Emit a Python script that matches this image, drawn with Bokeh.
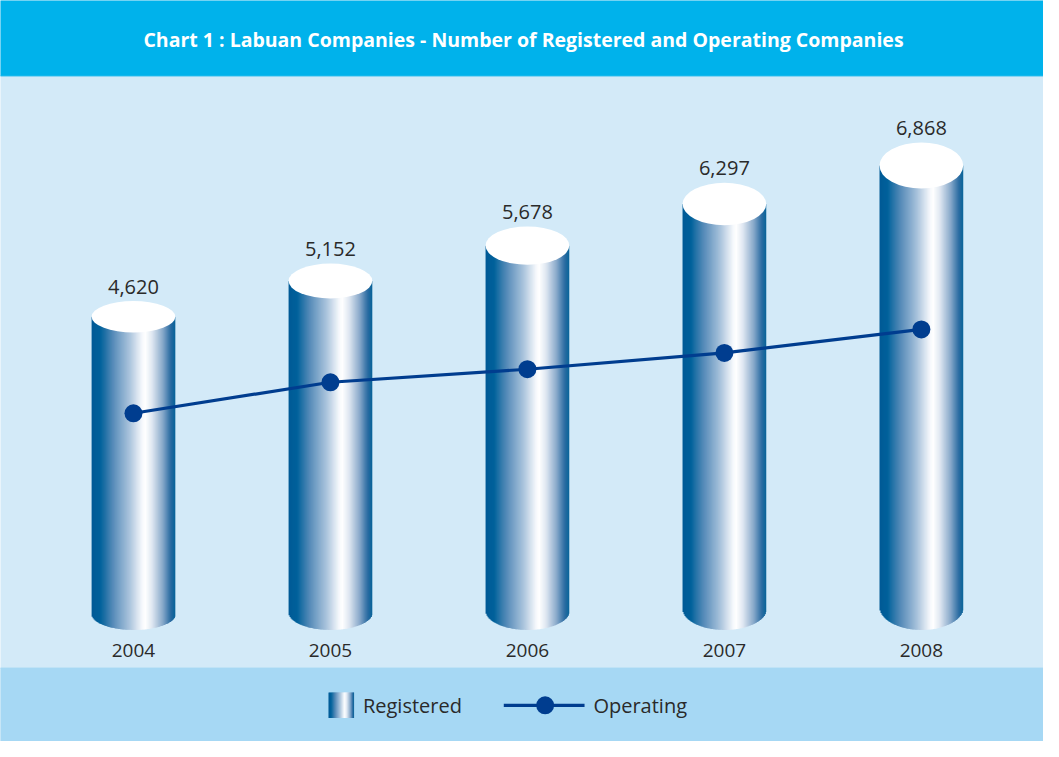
import math
from bokeh.plotting import figure
from bokeh.models import Range1d, ColumnDataSource
from bokeh.core.properties import value
from bokeh.embed import file_html
from bokeh.resources import INLINE

# ---------------- data ----------------
years = ["2004", "2005", "2006", "2007", "2008"]
registered = [4620, 5152, 5678, 6297, 6868]
operating = [3185, 3646, 3840, 4083, 4432]
title_text = "Chart 1 : Labuan Companies - Number of Registered and Operating Companies"

# ---------------- geometry helpers (reference pixel -> data) ----------------
S = 0.0687  # reference px per unit


def X(px):
    return (px - 135) / 200.0


def Y(py):
    return (640.5 - py) / S


FONT = value("Open Sans")
TXT = "#2a2a2a"
NAVY = "#003d8f"

stops = [(0.0, (0, 90, 150)), (0.1, (0, 97, 155)), (0.25, (79, 134, 181)),
         (0.45, (169, 195, 220)), (0.6, (244, 247, 251)), (0.64, (255, 255, 255)),
         (0.72, (224, 232, 242)), (0.85, (136, 169, 202)), (0.95, (36, 103, 159)),
         (1.0, (0, 95, 150))]


def grad(t):
    for (t0, c0), (t1, c1) in zip(stops[:-1], stops[1:]):
        if t0 <= t <= t1:
            f = (t - t0) / (t1 - t0) if t1 > t0 else 0
            r, g, b = (round(c0[k] + (c1[k] - c0[k]) * f) for k in range(3))
            return "#%02x%02x%02x" % (r, g, b)
    return "#%02x%02x%02x" % stops[-1][1]


p = figure(width=1043, height=741, x_range=Range1d(X(0), X(1059)),
           y_range=Range1d(Y(757), Y(0)), output_backend="svg",
           toolbar_location=None, min_border=0)
p.axis.visible = False
p.grid.visible = False
p.outline_line_color = None
p.background_fill_color = "#d3eaf8"
p.border_fill_color = "white"

# bands
p.quad(left=[X(-20)], right=[X(1080)], top=[Y(-20)], bottom=[Y(77)], color="#00b2eb")
p.quad(left=[X(-20)], right=[X(1080)], top=[Y(682)], bottom=[Y(780)], color="#a6d8f4")

p.text(x=[X(531)], y=[Y(40)], text=[title_text], text_align="center",
       text_baseline="middle", text_font=FONT, text_font_style="bold",
       text_font_size="19.5px", text_color="white")

# cylinders
W = 0.425
N = 85
xs = list(range(len(years)))


def ell_h(v):
    return 32 + (v - 4620) * 15.0 / 2248


L, R, T, B, C = [], [], [], [], []
for i, v in zip(xs, registered):
    hh = ell_h(v) / 2
    for k in range(N):
        t = (k + 0.5) / N
        l = i - W / 2 + k * W / N
        L.append(l)
        R.append(l + W / N * 1.6 if k < N - 1 else l + W / N)
        T.append(v)
        pyb = (643 - hh) + hh * math.sqrt(max(0.0, 1 - (2 * t - 1) ** 2))
        B.append(Y(pyb))
        C.append(grad(t))
p.quad(left=L, right=R, top=T, bottom=B, fill_color=C, line_color=None)

p.ellipse(x=xs, y=registered, width=W, height=[ell_h(v) / S for v in registered],
          fill_color="white", line_color=None)

lab = ColumnDataSource(dict(x=xs, y=registered, t=["{:,}".format(v) for v in registered],
                            off=[-(ell_h(v) / 2 + 14) for v in registered]))
p.text(x="x", y="y", text="t", y_offset="off", source=lab, text_align="center",
       text_baseline="alphabetic", text_font=FONT, text_font_size="20px", text_color=TXT)

p.text(x=xs, y=[Y(664)] * len(xs), text=years, text_align="center", text_baseline="middle",
       text_font=FONT, text_font_size="19px", text_color=TXT)

# operating line
p.line(x=xs, y=operating, line_color=NAVY, line_width=3.2)
p.scatter(x=xs, y=operating, size=18, fill_color=NAVY, line_color=None)

# legend
M = 26
lx0, lx1 = 333, 359
sl, sr, sc = [], [], []
for k in range(M):
    t = (k + 0.5) / M
    a = lx0 + (lx1 - lx0) * k / M
    b = lx0 + (lx1 - lx0) * (k + 1.6) / M if k < M - 1 else lx1
    sl.append(X(a)); sr.append(X(b)); sc.append(grad(t))
p.quad(left=sl, right=sr, top=[Y(707)] * M, bottom=[Y(733)] * M, fill_color=sc, line_color=None)
p.text(x=[X(368)], y=[Y(720)], text=["Registered"], text_baseline="middle",
       text_font=FONT, text_font_size="20px", text_color=TXT)
p.line(x=[X(511), X(593)], y=[Y(720), Y(720)], line_color=NAVY, line_width=3.2)
p.scatter(x=[X(553)], y=[Y(720)], size=18, fill_color=NAVY, line_color=None)
p.text(x=[X(602)], y=[Y(720)], text=["Operating"], text_baseline="middle",
       text_font=FONT, text_font_size="20px", text_color=TXT)

open("out.html", "w").write(file_html(p, INLINE))
